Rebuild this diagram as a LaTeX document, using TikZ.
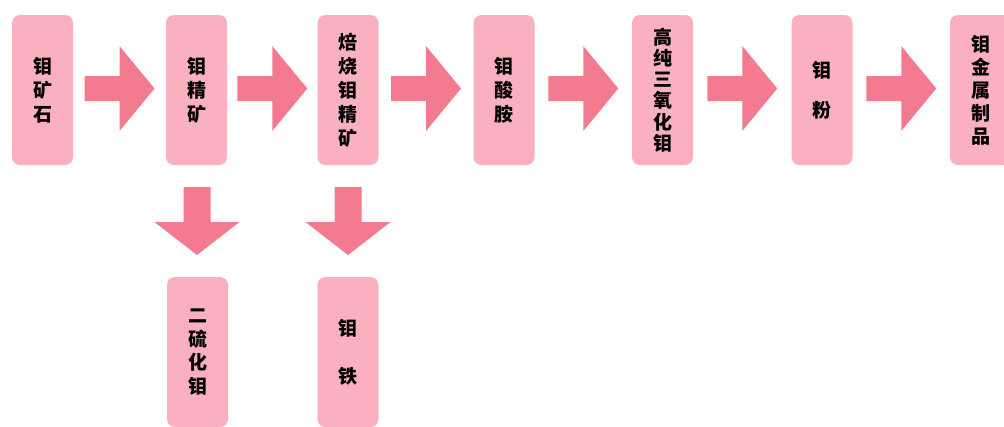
\documentclass[tikz,border=0pt]{standalone}
\usepackage{fontspec}
\newfontfamily\cjk{Noto Sans CJK SC}
\usetikzlibrary{calc}
\definecolor{boxpink}{RGB}{250,176,190}
\definecolor{arrowpink}{RGB}{244,122,143}
\tikzset{
  box/.style={fill=boxpink, rounded corners=8pt, minimum width=61pt, minimum height=150pt,
    inner sep=0pt, align=center, text=black, font=\cjk\bfseries\fontsize{19}{24}\selectfont},
  arrowfill/.style={fill=arrowpink},
  harrow/.pic={\fill[arrowfill] (-35,-12.5) -- (0,-12.5) -- (0,-42.5) -- (35,0) -- (0,42.5) -- (0,12.5) -- (-35,12.5) -- cycle;},
  varrow/.pic={\fill[arrowfill] (-13.5,-34) -- (13.5,-34) -- (13.5,1) -- (42.5,1) -- (0,34) -- (-42.5,1) -- (-13.5,1) -- cycle;},
}
\begin{document}
\begin{tikzpicture}[x=1pt,y=-1pt]
\useasboundingbox (0,0) rectangle (1004,426);
\fill[white] (0,0) rectangle (1004,426);
\clip (0,0) rectangle (1004,426);
\node[box] (b1) at (42.5,90) {钼\\矿\\石};
\node[box] (b2) at (196.5,90) {钼\\精\\矿};
\node[box] (b3) at (348,90) {焙\\烧\\钼\\精\\矿};
\node[box] (b4) at (504,90) {钼\\酸\\胺};
\node[box, font=\cjk\bfseries\fontsize{19}{21.2}\selectfont] (b5) at (662.5,90) {高\\纯\\三\\氧\\化\\钼};
\node[box, font=\cjk\bfseries\fontsize{19}{40}\selectfont] (b6) at (822,90) {钼\\粉};
\node[box, font=\cjk\bfseries\fontsize{19}{23}\selectfont] (b7) at (980.5,90) {钼\\金\\属\\制\\品};
\node[box, font=\cjk\bfseries\fontsize{19}{23.5}\selectfont] (d1) at (197.5,352) {二\\硫\\化\\钼};
\node[box, font=\cjk\bfseries\fontsize{19}{48}\selectfont] (d2) at (348,352) {钼\\铁};
\pic at ($(b1.east)!0.5!(b2.west)+(0,-1.5)$) {harrow};
\pic at ($(b2.east)!0.5!(b3.west)+(0,-1.5)$) {harrow};
\pic at ($(b3.east)!0.5!(b4.west)+(0,-1.5)$) {harrow};
\pic at ($(b4.east)!0.5!(b5.west)+(0,-1.5)$) {harrow};
\pic at ($(b5.east)!0.5!(b6.west)+(0,-1.5)$) {harrow};
\pic at ($(b6.east)!0.5!(b7.west)+(0,-1.5)$) {harrow};
\pic at ($(b2.south)!0.5!(d1.north)$) {varrow};
\pic at ($(b3.south)!0.5!(d2.north)$) {varrow};
\end{tikzpicture}
\end{document}
